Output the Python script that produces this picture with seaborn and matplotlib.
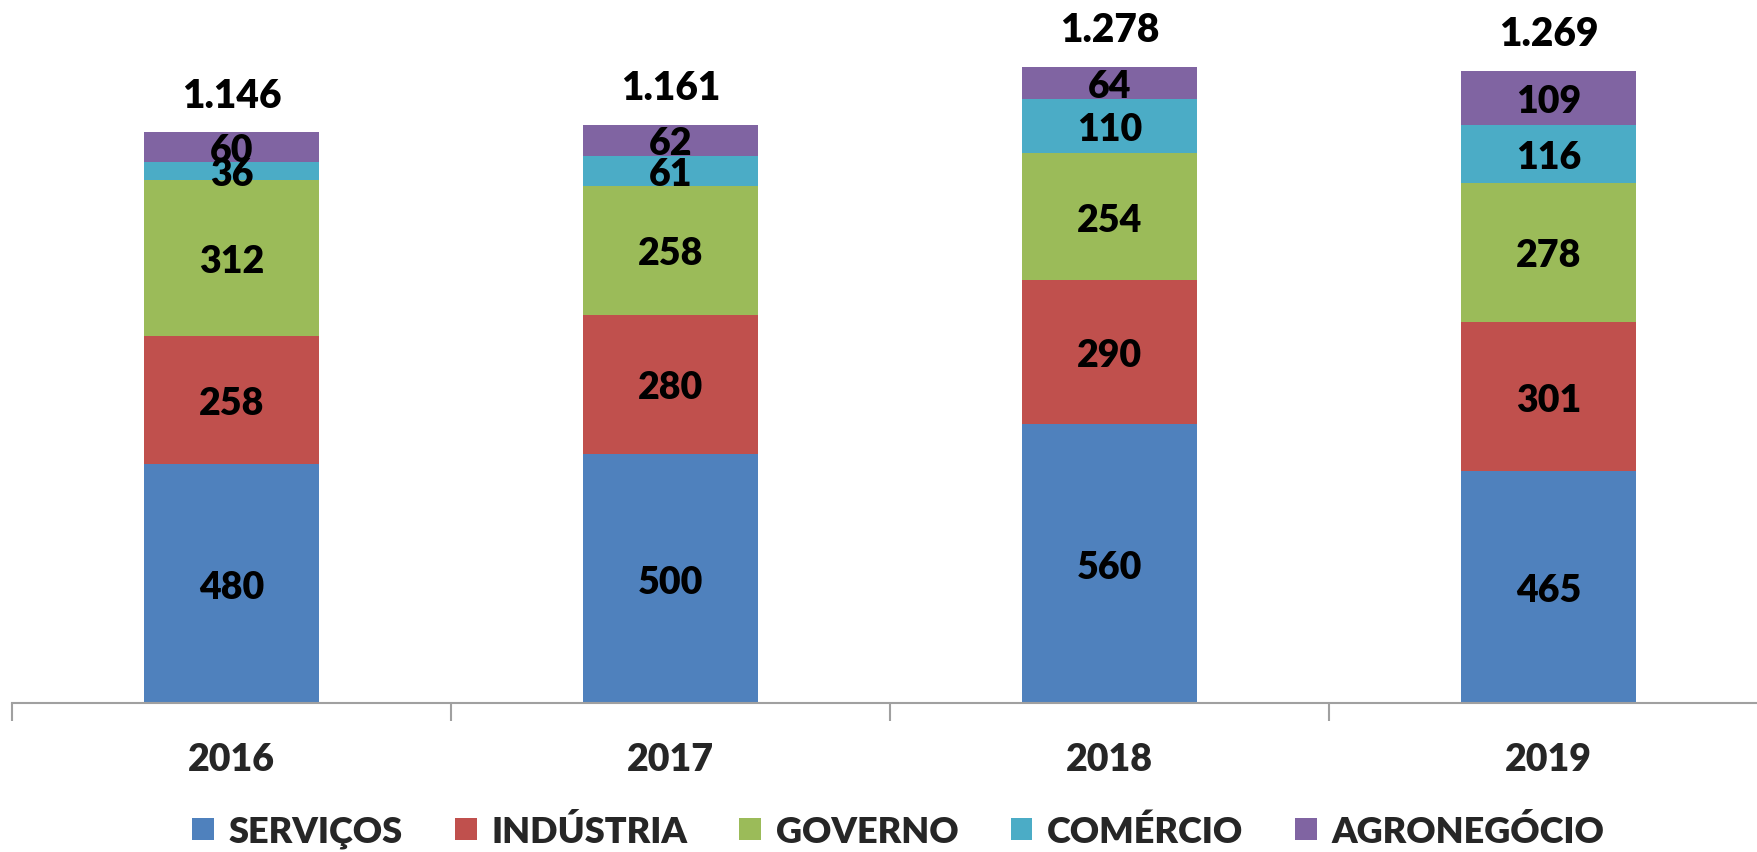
import numpy as np
import pandas as pd
import matplotlib.pyplot as plt
import seaborn as sns
from matplotlib.patches import Patch

# data
years = ['2016', '2017', '2018', '2019']
series = ['SERVIÇOS', 'INDÚSTRIA', 'GOVERNO', 'COMÉRCIO', 'AGRONEGÓCIO']
servicos = [480, 500, 560, 465]
industria = [258, 280, 290, 301]
governo = [312, 258, 254, 278]
comercio = [36, 61, 110, 116]
agro = [60, 62, 64, 109]
colors = ['#4F81BD', '#C0504D', '#9BBB59', '#4BACC6', '#8064A2']

sns.set_style('white')
plt.rcParams['font.family'] = ['Lato', 'DejaVu Sans']
WEIGHT = 'heavy'

vals = np.array([servicos, industria, governo, comercio, agro])
cum = vals.cumsum(axis=0)
totals = cum[-1]

W, H = 1758, 853
fig = plt.figure(figsize=(W / 100, H / 100), dpi=100)
ax = fig.add_axes([12 / W, (H - 704) / H, 4 * 439 / W, 697 / H])

# draw from the top layer down so lower layers cover upper ones
for i in range(len(series) - 1, -1, -1):
    df = pd.DataFrame({'year': years, 'val': cum[i]})
    sns.barplot(data=df, x='year', y='val', color=colors[i], width=0.4,
                saturation=1, linewidth=0, ax=ax, order=years)

# segment labels
for i in range(len(series)):
    for j in range(len(years)):
        y = cum[i][j] - vals[i][j] / 2
        ax.text(j, y, str(vals[i][j]), ha='center', va='center_baseline',
                fontsize=27, fontweight=WEIGHT, color='black')

# totals
for j in range(len(years)):
    ax.text(j, totals[j] + 75, f'{totals[j] / 1000:.3f}', ha='center',
            va='center', fontsize=28, fontweight=WEIGHT, color='black')

ax.set_xlim(-0.5, 3.5)
ax.set_ylim(0, 1400)
ax.set_xlabel('')
ax.set_ylabel('')
ax.set_yticks([])
for s in ['top', 'right', 'left']:
    ax.spines[s].set_visible(False)
ax.spines['bottom'].set_color('#A0A0A0')
ax.spines['bottom'].set_linewidth(1.5)
ax.set_xticks(range(len(years)))
ax.set_xticklabels(years, fontsize=27, fontweight=WEIGHT)
ax.tick_params(axis='x', which='major', bottom=True, length=0, pad=28)
ax.set_xticks([-0.5, 0.5, 1.5, 2.5, 3.5], minor=True)
ax.tick_params(axis='x', which='minor', bottom=True, length=13, width=1.5,
               color='#A0A0A0')

handles = [Patch(facecolor=c, edgecolor='none') for c in colors]
fig.legend(handles, series, loc='center', bbox_to_anchor=(0.511, 1 - 832 / H),
           ncol=5, frameon=False, prop={'size': 26, 'weight': WEIGHT},
           handlelength=0.6, handleheight=0.6, handletextpad=0.4, columnspacing=1.45)

fig.savefig('out.png', dpi=100)
